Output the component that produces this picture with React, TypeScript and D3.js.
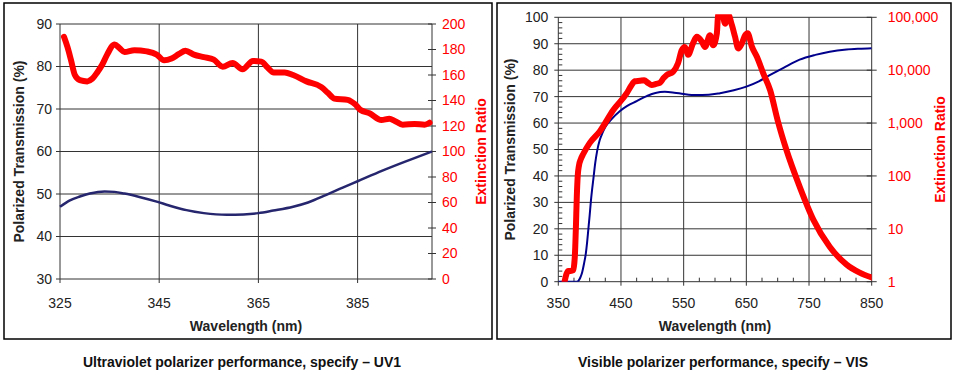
import React from "react";
import * as d3 from "d3";

// ---------- Ultraviolet (UV1) ----------
const uvTransWl = [325, 327, 329, 331, 334, 336, 338, 341, 344.5, 347, 350.5, 354, 358.6, 362, 365, 368, 372, 375, 378.7, 382, 385, 390, 395, 400];
const uvTransmission = [47, 48.5, 49.4, 50.1, 50.6, 50.5, 50.1, 49.3, 48.2, 47.3, 46.2, 45.5, 45.1, 45.2, 45.5, 46.1, 47, 48, 49.8, 51.5, 53, 55.5, 57.8, 60];
const uvExtWl = [325.8, 326.5, 327.2, 328, 329, 330.5, 331.5, 332.5, 333.5, 334.5, 336, 337, 338, 340, 342.5, 344.5, 346, 347.5, 349, 350.3, 352, 354, 356, 357.8, 359.8, 361.8, 363.9, 365.6, 366.8, 368.1, 370.3, 372, 374.7, 377.7, 379, 380.3, 383, 384.5, 385.6, 387.4, 389.8, 391.4, 392.5, 394.1, 396.5, 398.5, 399.5];
const uvExtinction = [190, 182, 172, 160, 156, 155, 157, 162, 168, 176, 184, 181, 178, 179.5, 178.5, 176, 171.5, 173, 176.5, 179, 176, 174, 172, 166.5, 169.5, 164.5, 171, 170.5, 166, 162, 162, 160, 155, 150.5, 146, 141.5, 140.5, 137, 132.5, 130, 124.7, 125.7, 124, 121, 121.6, 121, 122.6];
const uvXTicks = [325, 345, 365, 385];
const uvYTicks = [30, 40, 50, 60, 70, 80, 90];
const uvY2Ticks = [0, 20, 40, 60, 80, 100, 120, 140, 160, 180, 200];

// ---------- Visible (VIS) ----------
const visTransWl = [350, 380, 382, 385, 388, 391, 394, 396, 398, 400, 402, 404, 406, 409, 412, 416, 420, 425, 435, 448, 460, 475, 491, 505, 520, 535, 550, 570, 590, 608, 630, 650, 670, 688, 710, 735, 760, 783, 810, 830, 850];
const visTransmission = [0, 0, 0.3, 1.5, 3.5, 6.8, 10.8, 15, 20, 25, 30.5, 35, 39, 45, 49.5, 53.5, 56, 58.5, 61.5, 64.5, 66.5, 68.3, 70.2, 71.4, 71.8, 71.5, 71, 70.6, 70.7, 71.3, 72.4, 73.8, 75.8, 78.2, 81, 84, 85.8, 87, 87.8, 88.1, 88.3];
const visExtWl = [360, 361.5, 363, 366, 370, 374, 375.5, 376.5, 378, 379.5, 381, 383, 386, 390, 400, 416, 438, 459, 466, 472, 480, 487, 493, 499, 506, 512, 518, 523, 533, 541, 547, 552, 557, 565, 571, 579, 584, 592, 597, 603, 605, 611, 616, 621, 627, 632, 637, 643, 648, 652, 659, 667, 677, 688, 700, 714, 735, 757, 783, 810, 830, 850];
const visExtinction = [1, 1.2, 1.4, 1.6, 1.6, 1.65, 2.2, 3.2, 10, 40, 100, 158, 209, 263, 417, 692, 1780, 3630, 5010, 6170, 6310, 6460, 5750, 5250, 5500, 5750, 7080, 8130, 9330, 13500, 24000, 27500, 19500, 32400, 42700, 34700, 27500, 45700, 29500, 50100, 112000, 126000, 75900, 112000, 70800, 42700, 25700, 32400, 45700, 50100, 27500, 17800, 8710, 4170, 1120, 309, 63, 14.8, 4.6, 2.1, 1.5, 1.2];
const visXTicks = [350, 450, 550, 650, 750, 850];
const visYTicks = [0, 10, 20, 30, 40, 50, 60, 70, 80, 90, 100];
const visY2Ticks = [1, 10, 100, 1000, 10000, 100000];

const FONT = "'Liberation Sans', Arial, Helvetica, sans-serif";
const RED = "#ff0000";
const GRID = "#333";

function UVChart() {
  const L = 60, R = 432, T = 24, B = 279;
  const x = d3.scaleLinear().domain([325, 400]).range([L, R]);
  const y = d3.scaleLinear().domain([30, 90]).range([B, T]);
  const y2 = d3.scaleLinear().domain([0, 200]).range([B, T]);
  const trans = d3.line<number>().x((_, i) => x(uvTransWl[i])).y((d) => y(d)).curve(d3.curveMonotoneX)(uvTransmission) || "";
  const ext = d3.line<number>().x((_, i) => x(uvExtWl[i])).y((d) => y2(d)).curve(d3.curveMonotoneX)(uvExtinction) || "";
  return (
    <g>
      <rect x={4} y={3} width={488} height={336} fill="white" stroke="black" strokeWidth={1.5} />
      {uvYTicks.map((t) => (
        <g key={"uy" + t}>
          <line x1={L - 4} x2={R} y1={y(t)} y2={y(t)} stroke={GRID} strokeWidth={1} />
          <text x={L - 8} y={y(t)} dy="0.35em" textAnchor="end" fontSize={14} fill="#222">{t}</text>
        </g>
      ))}
      {uvXTicks.map((t) => (
        <g key={"ux" + t}>
          <line x1={x(t)} x2={x(t)} y1={T} y2={B + 4} stroke={GRID} strokeWidth={1} />
          <text x={x(t)} y={B + 24} dy="0.35em" textAnchor="middle" fontSize={14} fill="#222">{t}</text>
        </g>
      ))}
      <line x1={R} x2={R} y1={T} y2={B} stroke={GRID} strokeWidth={1} />
      {uvY2Ticks.map((t) => (
        <g key={"uy2" + t}>
          <line x1={R - 4} x2={R + 4} y1={y2(t)} y2={y2(t)} stroke={GRID} strokeWidth={1} />
          <text x={R + 10} y={y2(t)} dy="0.35em" textAnchor="start" fontSize={14} fill={RED}>{t}</text>
        </g>
      ))}
      <path d={trans} fill="none" stroke="#26266e" strokeWidth={2.5} />
      <path d={ext} fill="none" stroke={RED} strokeWidth={6} strokeLinecap="round" strokeLinejoin="round" />
      <text x={(L + R) / 2} y={326} dy="0.35em" textAnchor="middle" fontSize={14} fontWeight="bold" fill="#222">Wavelength (nm)</text>
      <text transform={`translate(19,${(T + B) / 2}) rotate(-90)`} dy="0.35em" textAnchor="middle" fontSize={14} fontWeight="bold" fill="#222">Polarized Transmission (%)</text>
      <text transform={`translate(481,${(T + B) / 2}) rotate(-90)`} dy="0.35em" textAnchor="middle" fontSize={14} fontWeight="bold" fill={RED}>Extinction Ratio</text>
      <text x={242} y={362} dy="0.35em" textAnchor="middle" fontSize={14} fontWeight="bold" fill="#111">Ultraviolet polarizer performance, specify – UV1</text>
    </g>
  );
}

function VISChart() {
  const L = 558.3, R = 871.7, T = 17.3, B = 281.7;
  const x = d3.scaleLinear().domain([350, 850]).range([L, R]);
  const y = d3.scaleLinear().domain([0, 100]).range([B, T]);
  const y2 = d3.scaleLog().domain([1, 100000]).range([B, T]);
  const trans = d3.line<number>().x((_, i) => x(visTransWl[i])).y((d) => y(d)).curve(d3.curveMonotoneX)(visTransmission) || "";
  const ext = d3.line<number>().x((_, i) => x(visExtWl[i])).y((d) => y2(d)).curve(d3.curveMonotoneX)(visExtinction) || "";
  const minorY = d3.range(0, 101, 2).filter((v) => v % 10 !== 0);
  const minorX = d3.range(350, 851, 25).filter((v) => (v - 350) % 100 !== 0);
  return (
    <g>
      <rect x={497} y={3} width={454} height={336} fill="white" stroke="black" strokeWidth={1.5} />
      <defs>
        <clipPath id="visclip">
          <rect x={L} y={T - 3} width={R - L} height={B - T + 3} />
        </clipPath>
      </defs>
      {visYTicks.map((t) => (
        <g key={"vy" + t}>
          <line x1={L - 4} x2={R} y1={y(t)} y2={y(t)} stroke={GRID} strokeWidth={1} />
          <text x={L - 10} y={y(t)} dy="0.35em" textAnchor="end" fontSize={14} fill="#222">{t}</text>
        </g>
      ))}
      {minorY.map((t) => (
        <line key={"vmy" + t} x1={L} x2={L + 4} y1={y(t)} y2={y(t)} stroke={GRID} strokeWidth={1} />
      ))}
      {visXTicks.map((t) => (
        <g key={"vx" + t}>
          <line x1={x(t)} x2={x(t)} y1={T} y2={B + 4} stroke={GRID} strokeWidth={1} />
          <text x={x(t)} y={B + 21} dy="0.35em" textAnchor="middle" fontSize={14} fill="#222">{t}</text>
        </g>
      ))}
      {minorX.map((t) => (
        <line key={"vmx" + t} x1={x(t)} x2={x(t)} y1={B - 4} y2={B} stroke={GRID} strokeWidth={1} />
      ))}
      {visY2Ticks.map((t) => (
        <g key={"vy2" + t}>
          <line x1={R - 5} x2={R + 5} y1={y2(t)} y2={y2(t)} stroke={GRID} strokeWidth={1} />
          <text x={R + 16} y={y2(t)} dy="0.35em" textAnchor="start" fontSize={14} fill={RED}>{d3.format(",")(t)}</text>
        </g>
      ))}
      <path d={trans} fill="none" stroke="#00008c" strokeWidth={2} clipPath="url(#visclip)" />
      <path d={ext} fill="none" stroke={RED} strokeWidth={6} strokeLinecap="round" strokeLinejoin="round" clipPath="url(#visclip)" />
      <text x={(L + R) / 2} y={326} dy="0.35em" textAnchor="middle" fontSize={14} fontWeight="bold" fill="#222">Wavelength (nm)</text>
      <text transform={`translate(510,${(T + B) / 2}) rotate(-90)`} dy="0.35em" textAnchor="middle" fontSize={14} fontWeight="bold" fill="#222">Polarized Transmission (%)</text>
      <text transform={`translate(940,${(T + B) / 2}) rotate(-90)`} dy="0.35em" textAnchor="middle" fontSize={14} fontWeight="bold" fill={RED}>Extinction Ratio</text>
      <text x={723} y={362} dy="0.35em" textAnchor="middle" fontSize={14} fontWeight="bold" fill="#111">Visible polarizer performance, specify – VIS</text>
    </g>
  );
}

export default function App() {
  return (
    <svg width={957} height={375} style={{ position: "absolute", left: 0, top: 0, background: "white" }} fontFamily={FONT}>
      <rect x={0} y={0} width={957} height={375} fill="white" />
      <UVChart />
      <VISChart />
    </svg>
  );
}
